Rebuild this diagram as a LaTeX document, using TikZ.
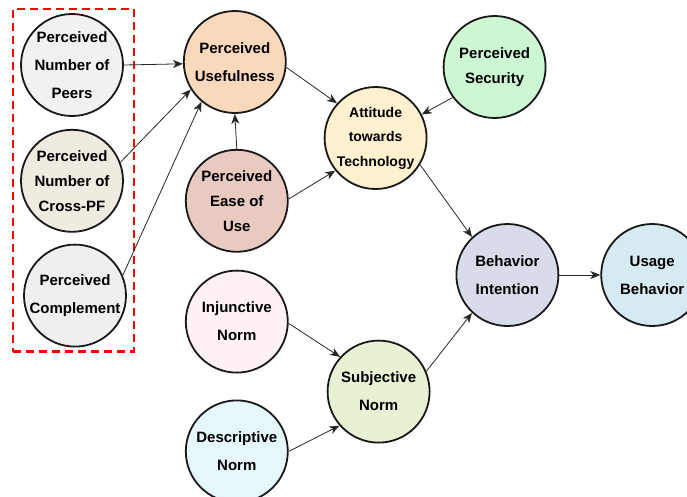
\documentclass[tikz,border=0pt]{standalone}
\usepackage{fontspec}
\setmainfont{Liberation Sans}
\usepackage{xcolor}
\usetikzlibrary{arrows.meta,positioning,fit}
\definecolor{peerclr}{HTML}{F1F1F1}
\definecolor{crossclr}{HTML}{F0EBE1}
\definecolor{complclr}{HTML}{F1EEF2}
\definecolor{usefulclr}{HTML}{FAD8BB}
\definecolor{easeclr}{HTML}{E8CAC0}
\definecolor{attclr}{HTML}{FFF1CF}
\definecolor{secclr}{HTML}{CDF6D3}
\definecolor{bintclr}{HTML}{D8DCEA}
\definecolor{usageclr}{HTML}{D5EBF1}
\definecolor{subjclr}{HTML}{E8F1D4}
\definecolor{injclr}{HTML}{FDF0F7}
\definecolor{descclr}{HTML}{E5F7FB}

\begin{document}
\begin{tikzpicture}[x=1pt, y=-1pt,
  cnode/.style = {circle, draw=black!90, fill=#1, line width=1.8pt,
                  minimum size=102pt, inner sep=0pt, align=center,
                  font=\bfseries\fontsize{15}{28}\selectfont},
  arr/.style   = {-{Stealth[length=10pt,width=8pt,inset=3pt]},
                  line width=0.8pt, draw=black!85},
  gbox/.style  = {draw=red, dash pattern=on 8pt off 5pt, line width=2.4pt,
                  inner xsep=7pt, inner ysep=4pt},
]
\useasboundingbox (0,0) rectangle (687,496);
% input group
\node[cnode=peerclr] (peers) at (72,65) {Perceived\\Number of\\Peers};
\node[cnode=crossclr, below=12pt of peers] (cross)
    {Perceived\\[-3pt]Number of\\[-3pt]Cross-PF};
\node[cnode=complclr, below=11pt of cross, xshift=3pt] (compl)
    {Perceived\\Complement};
\node[gbox, fit=(peers)(cross)(compl)] (group) {};
% TAM core
\node[cnode=usefulclr, right=59pt of peers, yshift=3pt] (useful)
    {Perceived\\Usefulness};
\node[cnode=easeclr, below=35pt of useful, xshift=2pt] (ease)
    {Perceived\\[-3pt]Ease of\\[-3pt]Use};
\node[cnode=attclr, right=37pt of useful, yshift=-76pt,
      font=\bfseries\fontsize{14}{24.5}\selectfont] (att)
    {Attitude\\towards\\Technology};
\node[cnode=secclr, right=156pt of useful, yshift=-5pt] (sec)
    {Perceived\\[-3.5pt]Security};
% norms
\node[cnode=injclr, below=17pt of ease] (inj) {Injunctive\\Norm};
\node[cnode=descclr, below=26pt of inj] (desc) {Descriptive\\Norm};
\node[cnode=subjclr, right=38pt of inj, yshift=-70pt] (subj)
    {Subjective\\Norm};
% outcome
\node[cnode=bintclr, right=28pt of att, yshift=-137pt] (bint)
    {Behavior\\Intention};
\node[cnode=usageclr, right=41pt of bint] (usage) {Usage\\Behavior};
% connectors
\draw[arr] (peers.east) -- (useful.182);
\draw[arr] (cross.21)   -- (useful.212);
\draw[arr] (compl.23)   -- (useful.230);
\draw[arr] (ease.north) -- (useful.south);
\draw[arr] (useful.354) -- (att.138);
\draw[arr] (ease.2)     -- (att.219);
\draw[arr] (sec.216)    -- (att.27);
\draw[arr] (att.329)    -- (bint.133);
\draw[arr] (subj.23)    -- (bint.227);
\draw[arr] (bint.east)  -- (usage.west);
\draw[arr] (inj.358)    -- (subj.138);
\draw[arr] (desc.0)     -- (subj.221);
\end{tikzpicture}
\end{document}
